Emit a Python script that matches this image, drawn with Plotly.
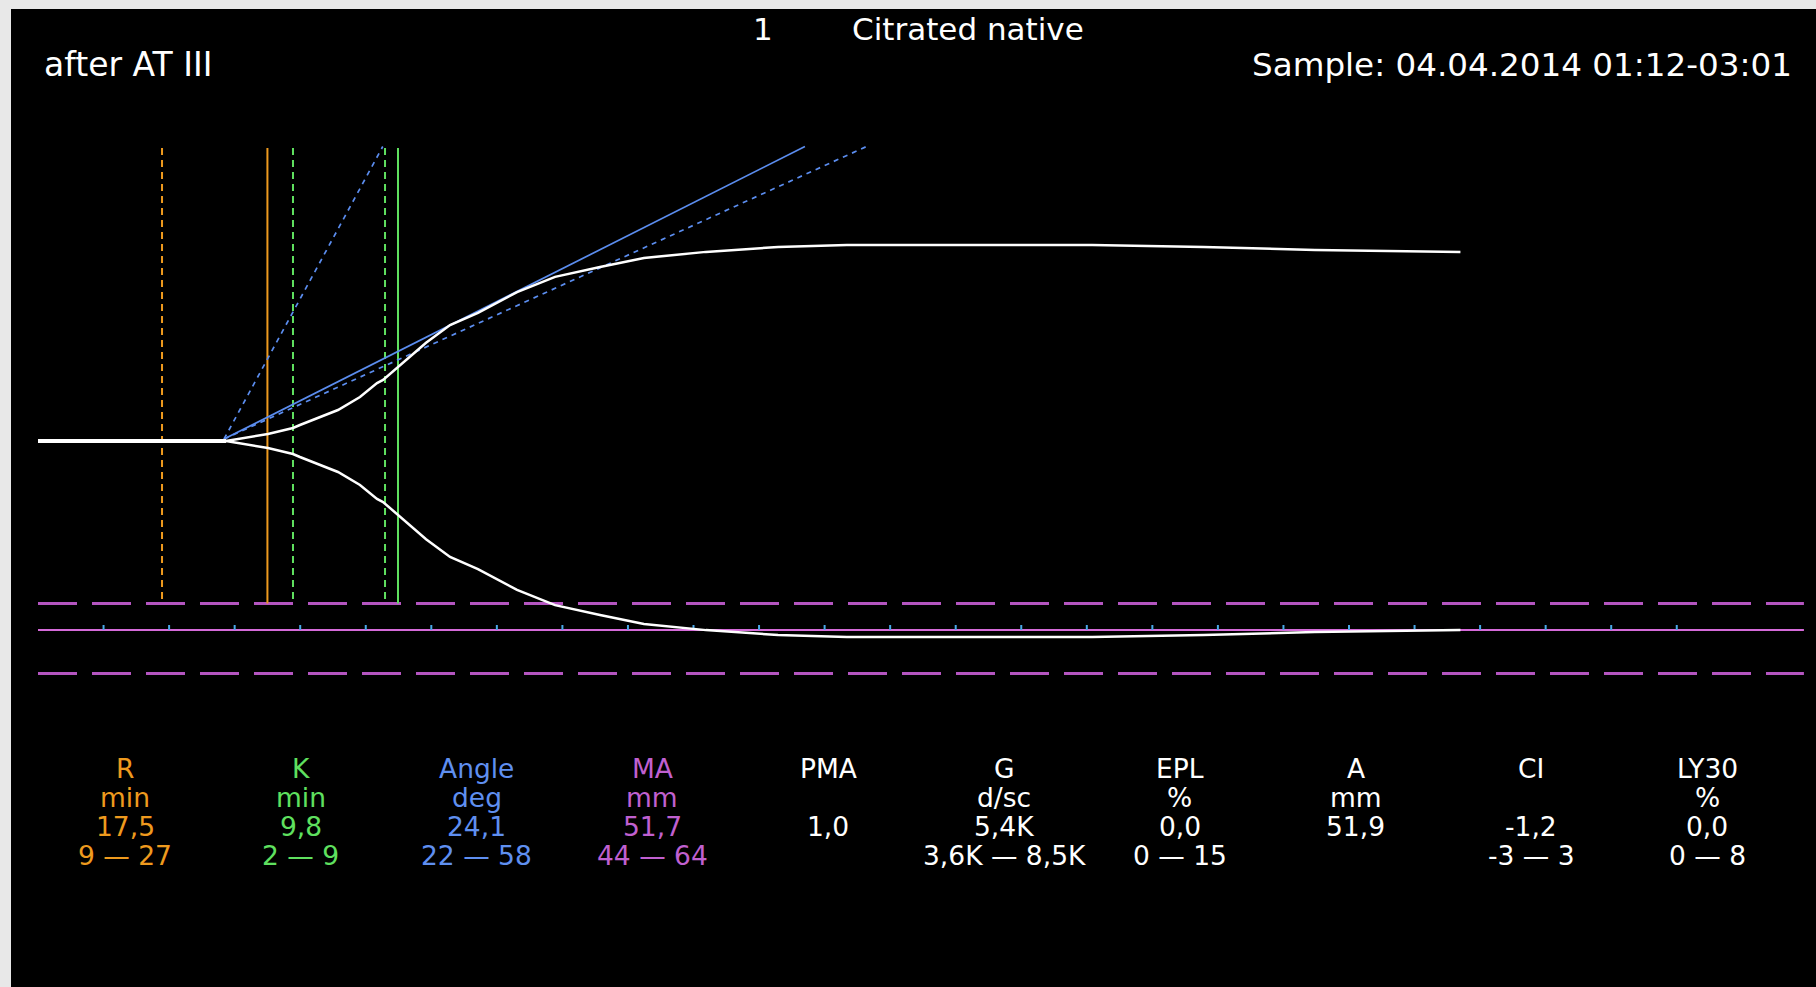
import plotly.graph_objects as go

# ---------------- data ----------------
# TEG trace: time (min) and total amplitude (mm)
trace_t = [0, 14.34, 17.54, 19.45, 19.98, 22.2, 22.88, 24.56, 25.86, 26.32, 27.46,
           29.6, 31.43, 33.56, 36.54, 39.44, 42.87, 46.22, 50.95, 56.45, 61.7,
           80.4, 88.9, 97.4, 108.5]
trace_amp = [0, 0, 1.85, 3.43, 4.22, 7.39, 8.18, 11.6, 15.3, 16.1, 19.5,
             25.9, 30.6, 33.8, 39.3, 43.3, 45.9, 48.3, 49.9, 51.2, 51.7,
             51.7, 51.2, 50.4, 49.9]

# vertical marker lines (min)
marker_t = [9.46, 17.5, 19.45, 26.47, 27.46]
marker_color = ["#ee9a1e", "#ee9a1e", "#5fe05f", "#5fe05f", "#5fe05f"]
marker_dash = ["dash", "solid", "dash", "dash", "solid"]

# angle tangent lines: start (min) and end times (min)
angle_start_t = 14.19
angle_end_t = [26.3, 58.5, 63.2]
angle_dash = ["dash", "solid", "dash"]

# time ticks (min)
tick_t = list(range(5, 130, 5))
axis_end_t = 134.7

# result table
param_names = ["R", "K", "Angle", "MA", "PMA", "G", "EPL", "A", "CI", "LY30"]
param_units = ["min", "min", "deg", "mm", "", "d/sc", "%", "mm", "", "%"]
param_values = ["17,5", "9,8", "24,1", "51,7", "1,0", "5,4K", "0,0", "51,9", "-1,2", "0,0"]
param_ranges = ["9 — 27", "2 — 9", "22 — 58", "44 — 64", "", "3,6K — 8,5K", "0 — 15", "", "-3 — 3", "0 — 8"]
param_colors = ["#ee9a1e", "#5fe05f", "#5f8ff0", "#c060d0", "white", "white", "white", "white", "white", "white"]

# ---------------- layout geometry ----------------
W, H = 1816, 987
ML, MT = 11, 9
X0_PX, PX_PER_MIN = 38, 13.11
Y0_PX, PX_PER_MM = 441, 7.58

xr = [(ML - X0_PX) / PX_PER_MIN, (W - X0_PX) / PX_PER_MIN]
yr = [(Y0_PX - H) / PX_PER_MM, (Y0_PX - MT) / PX_PER_MM]

def py(p):
    return (Y0_PX - p) / PX_PER_MM

fig = go.Figure()

# magenta reference lines
y_dash_hi, y_solid, y_dash_lo = py(603.5), py(630), py(673.5)
for yv, col, dash, w in [(y_dash_hi, "#b455c0", "39px,15px", 3),
                         (y_dash_lo, "#b455c0", "39px,15px", 3),
                         (y_solid, "#d46ad8", "solid", 2)]:
    fig.add_trace(go.Scatter(x=[0, axis_end_t], y=[yv, yv], mode="lines",
                             line=dict(color=col, width=w, dash=dash),
                             hoverinfo="skip", showlegend=False))

# ticks on time axis
tx, ty = [], []
tick_h = 5 / PX_PER_MM
for t in tick_t:
    tx += [t, t, None]
    ty += [y_solid, y_solid + tick_h, None]
fig.add_trace(go.Scatter(x=tx, y=ty, mode="lines",
                         line=dict(color="#4aa8e8", width=2),
                         hoverinfo="skip", showlegend=False))

# vertical marker lines
v_top = py(148)
for t, c, d in zip(marker_t, marker_color, marker_dash):
    bottom = y_dash_hi if d == "solid" else py(599)
    fig.add_trace(go.Scatter(x=[t, t], y=[bottom, v_top], mode="lines",
                             line=dict(color=c, width=2,
                                       dash="7px,5px" if d == "dash" else "solid"),
                             hoverinfo="skip", showlegend=False))

# angle lines
for te, d in zip(angle_end_t, angle_dash):
    fig.add_trace(go.Scatter(x=[angle_start_t, te], y=[0.26, v_top + 0.2], mode="lines",
                             line=dict(color="#5b8def", width=1.7,
                                       dash="5px,5px" if d == "dash" else "solid"),
                             hoverinfo="skip", showlegend=False))

# TEG trace (upper and lower halves)
half = [a / 2 for a in trace_amp]
fig.add_trace(go.Scatter(x=trace_t, y=half, mode="lines",
                         line=dict(color="white", width=2.5),
                         hoverinfo="skip", showlegend=False))
fig.add_trace(go.Scatter(x=trace_t, y=[-h for h in half], mode="lines",
                         line=dict(color="white", width=2.5),
                         hoverinfo="skip", showlegend=False))
# flat pre-clot part is drawn thicker (both halves overlap)
flat_t = [t for t, a in zip(trace_t, trace_amp) if a == 0]
fig.add_trace(go.Scatter(x=flat_t, y=[0] * len(flat_t), mode="lines",
                         line=dict(color="white", width=4),
                         hoverinfo="skip", showlegend=False))

# ---------------- texts ----------------
def fx(p):
    return (p - ML) / (W - ML)

def fy(p):
    return (H - p) / (H - MT)

FONT = "DejaVu Sans"
ann = []
ann.append(dict(x=fx(763), y=fy(29), text="1", xanchor="center", yanchor="middle",
                font=dict(family=FONT, size=31, color="white")))
ann.append(dict(x=fx(968), y=fy(29), text="Citrated native", xanchor="center", yanchor="middle",
                font=dict(family=FONT, size=31, color="white")))
ann.append(dict(x=fx(42), y=fy(65), text="after AT III", xanchor="left", yanchor="middle",
                font=dict(family=FONT, size=33, color="white")))
ann.append(dict(x=fx(1794), y=fy(65), text="Sample: 04.04.2014 01:12-03:01", xanchor="right",
                yanchor="middle", font=dict(family=FONT, size=32.6, color="white")))

col_x0, col_dx = 125, 175.8
row_y = [768, 797, 826, 855]
for i, (n, u, v, r, c) in enumerate(zip(param_names, param_units, param_values,
                                        param_ranges, param_colors)):
    cx = col_x0 + i * col_dx
    for txt, yy in zip([n, u, v, r], row_y):
        if txt:
            ann.append(dict(x=fx(cx), y=fy(yy), text=txt, xanchor="center", yanchor="middle",
                            font=dict(family=FONT, size=26.5, color=c)))

for a in ann:
    a.update(xref="paper", yref="paper", showarrow=False)

fig.update_layout(
    width=W, height=H,
    margin=dict(l=ML, r=0, t=MT, b=0, pad=0),
    paper_bgcolor="#e8e8e8", plot_bgcolor="black",
    xaxis=dict(range=xr, visible=False, fixedrange=True),
    yaxis=dict(range=yr, visible=False, fixedrange=True),
    annotations=ann,
    showlegend=False,
)

fig.write_html(
    "out.html",
    config={"displayModeBar": False},
    post_script="document.body.style.margin='0';document.body.style.background='#e8e8e8';"
                "document.body.style.overflow='hidden';",
)
